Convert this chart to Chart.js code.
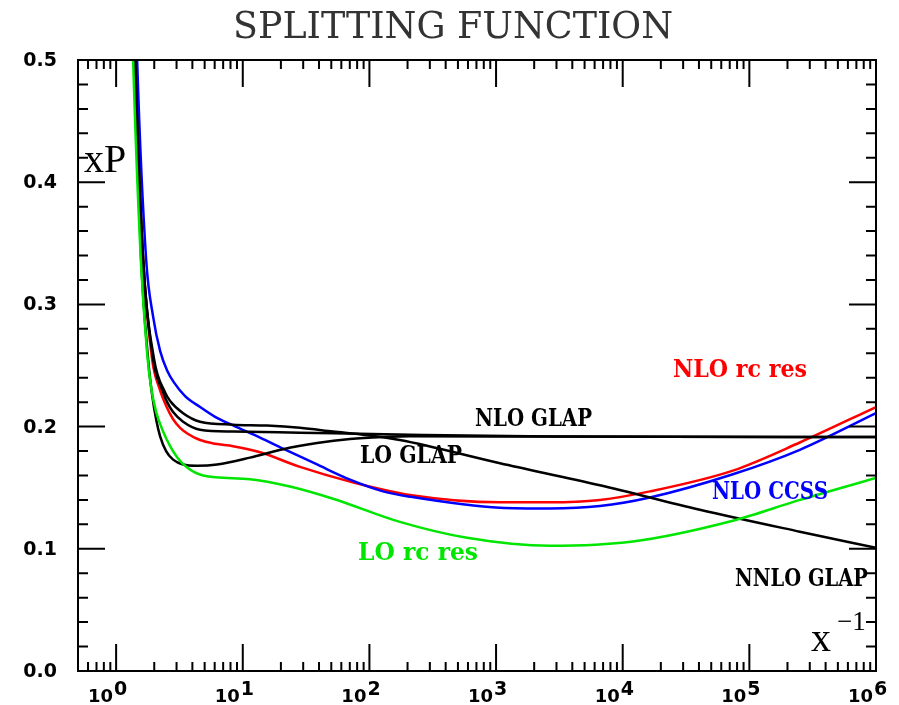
<!DOCTYPE html>
<html>
<head>
<meta charset="utf-8">
<script src="https://cdn.jsdelivr.net/npm/chart.js@4.4.1/dist/chart.umd.min.js"></script>
<style>
  body { margin: 0; background: #fff; }
</style>
</head>
<body>
<canvas id="chart" width="899" height="705"></canvas>
<script>
// values, x is 1/x on a log axis
var loRcX = [1.29, 1.362, 1.566, 1.757, 1.889, 2.069, 2.350, 2.668, 3.030, 3.634, 4.861, 11.4, 23.6, 51.6, 174, 589, 2664, 12040, 74100, 250400, 1e6];
var loRcY = [0.60, 0.50, 0.337, 0.26, 0.232, 0.212, 0.196, 0.184, 0.175, 0.1665, 0.160, 0.157, 0.151, 0.141, 0.122, 0.109, 0.1025, 0.106, 0.123, 0.140, 0.158];

var nloRcX = [1.337, 1.413, 1.634, 1.924, 2.185, 2.481, 2.818, 3.200, 3.701, 4.603, 6.045, 8.38, 13.7, 28.3, 70.3, 209, 1074, 2664, 6607, 16395, 74100, 250400, 1e6];
var nloRcY = [0.60, 0.50, 0.337, 0.255, 0.232, 0.217, 0.206, 0.199, 0.194, 0.189, 0.186, 0.184, 0.179, 0.167, 0.155, 0.144, 0.138, 0.138, 0.140, 0.147, 0.164, 0.187, 0.216];

var ccssX = [1.387, 1.465, 1.725, 1.959, 2.225, 2.527, 2.870, 3.504, 4.603, 6.045, 8.38, 13.7, 20.8, 38.6, 70.3, 128, 209, 1074, 2664, 6607, 16395, 74100, 250400, 1e6];
var ccssY = [0.60, 0.50, 0.337, 0.29, 0.262, 0.246, 0.236, 0.225, 0.216, 0.208, 0.201, 0.191, 0.182, 0.169, 0.1566, 0.147, 0.1426, 0.1336, 0.133, 0.135, 0.142, 0.161, 0.181, 0.211];

var nnloX = [1.337, 1.413, 1.634, 1.995, 2.436, 2.668, 3.380, 4.603, 8.38, 15.5, 28.3, 51.6, 95.7, 174, 1074, 6607, 40660, 250400, 1e6];
var nnloY = [0.60, 0.50, 0.337, 0.255, 0.228, 0.221, 0.211, 0.204, 0.2016, 0.2008, 0.199, 0.196, 0.193, 0.189, 0.170, 0.152, 0.132, 0.114, 0.1008];

var nloGlapX = [1.337, 1.413, 1.634, 1.959, 2.350, 2.527, 2.818, 3.380, 4.603, 8.38, 28.3, 209, 2664, 1e6];
var nloGlapY = [0.60, 0.50, 0.337, 0.255, 0.228, 0.220, 0.212, 0.204, 0.1975, 0.196, 0.195, 0.1934, 0.192, 0.1915];

var loGlapX = [1.29, 1.387, 1.575, 1.789, 1.924, 2.069, 2.225, 2.481, 2.818, 3.380, 4.358, 6.27, 11.4, 20.8, 38.6, 70.3, 128, 209, 2664, 1e6];
var loGlapY = [0.60, 0.50, 0.337, 0.255, 0.226, 0.206, 0.192, 0.180, 0.173, 0.169, 0.168, 0.169, 0.1746, 0.1815, 0.1865, 0.1898, 0.1915, 0.1922, 0.1918, 0.1915];

var yTicks = [0, 0.1, 0.2, 0.3, 0.4, 0.5];
var yTickLabels = ['0.0', '0.1', '0.2', '0.3', '0.4', '0.5'];
var xDecades = [0, 1, 2, 3, 4, 5, 6];

function toPoints(xs, ys) {
    var pts = [];
    for (var i = 0; i < xs.length; i++) {
        pts.push({x: xs[i], y: ys[i]});
    }
    return pts;
}

function line(xs, ys, color) {
    return {
        data: toPoints(xs, ys),
        borderColor: color,
        borderWidth: 2.5,
        pointRadius: 0,
        fill: false,
        cubicInterpolationMode: 'monotone',
        clip: 0
    };
}

// frame, inward ticks on all four sides, labels and captions
var decor = {
    id: 'decor',
    afterDraw: function(chart) {
        var ctx = chart.ctx;
        var a = chart.chartArea;
        var xs = chart.scales.x, ys = chart.scales.y;
        ctx.save();
        ctx.strokeStyle = '#000';
        ctx.lineWidth = 2;
        ctx.lineCap = 'butt';
        ctx.strokeRect(a.left, a.top, a.right - a.left, a.bottom - a.top);

        ctx.beginPath();
        for (var i = 0; i <= 25; i++) {
            var py = ys.getPixelForValue(i * 0.02);
            var len = (i % 5 === 0) ? 27 : 10;
            ctx.moveTo(a.left, py); ctx.lineTo(a.left + len, py);
            ctx.moveTo(a.right, py); ctx.lineTo(a.right - len, py);
        }
        for (var k = -1; k <= 6; k++) {
            for (var m = 1; m <= 9; m++) {
                var v = m * Math.pow(10, k);
                if (v < 0.5 || v > 1e6) continue;
                var px = xs.getPixelForValue(v);
                var l = (m === 1) ? 27 : 9;
                ctx.moveTo(px, a.bottom); ctx.lineTo(px, a.bottom - l);
                ctx.moveTo(px, a.top); ctx.lineTo(px, a.top + l);
            }
        }
        ctx.stroke();

        ctx.fillStyle = '#000';
        ctx.font = 'bold 19px "DejaVu Sans"';
        ctx.textAlign = 'right';
        ctx.textBaseline = 'middle';
        for (var j = 0; j < yTicks.length; j++) {
            ctx.fillText(yTickLabels[j], 57, ys.getPixelForValue(yTicks[j]) + 1);
        }

        ctx.textBaseline = 'alphabetic';
        for (var d = 0; d < xDecades.length; d++) {
            var tx = xs.getPixelForValue(Math.pow(10, xDecades[d]));
            ctx.font = 'bold 18px "DejaVu Sans"';
            ctx.textAlign = 'right';
            ctx.fillText('10', tx - 3, 702);
            ctx.textAlign = 'left';
            ctx.font = 'bold 19px "DejaVu Sans"';
            ctx.fillText(String(xDecades[d]), tx - 2, 695);
        }

        // title
        ctx.fillStyle = '#333';
        ctx.textAlign = 'center';
        var title = 'SPLITTING FUNCTION';
        ctx.font = '34px "DejaVu Serif"';
        var w = ctx.measureText(title).width;
        var size = 34 * 440 / w;
        ctx.font = size.toFixed(1) + 'px "DejaVu Serif"';
        ctx.fillText(title, 453, 38);

        ctx.fillStyle = '#000';
        ctx.textAlign = 'left';
        ctx.font = '40px "Liberation Serif"';
        ctx.fillText('xP', 84, 172);
        ctx.font = '40px "Liberation Serif"';
        ctx.fillText('x', 811, 651);
        ctx.font = '27px "Liberation Serif"';
        ctx.fillText('\u22121', 837, 630);

        ctx.font = 'bold 24px "DejaVu Serif"';
        var labels = [
            ['NLO GLAP', 475, 426, 117, '#000'],
            ['LO GLAP', 360, 463, 102, '#000'],
            ['NLO rc res', 673, 377, 134, '#ff0000'],
            ['NLO CCSS', 712, 499, 116, '#0000ff'],
            ['NNLO GLAP', 735, 586, 133, '#000'],
            ['LO rc res', 358, 560, 120, '#00e600']
        ];
        for (var n = 0; n < labels.length; n++) {
            ctx.fillStyle = labels[n][4];
            ctx.fillText(labels[n][0], labels[n][1], labels[n][2], labels[n][3]);
        }
        ctx.restore();
    }
};

var ctx = document.getElementById('chart').getContext('2d');
window.splitChart = new Chart(ctx, {
    type: 'line',
    data: {
        datasets: [
            line(loRcX, loRcY, '#00e600'),
            line(nnloX, nnloY, '#000'),
            line(nloGlapX, nloGlapY, '#000'),
            line(loGlapX, loGlapY, '#000'),
            line(ccssX, ccssY, '#0000ff'),
            line(nloRcX, nloRcY, '#ff0000')
        ]
    },
    options: {
        responsive: false,
        animation: false,
        layout: { padding: { left: 78, right: 23, top: 60, bottom: 34 } },
        plugins: { legend: { display: false }, tooltip: { enabled: false } },
        scales: {
            x: { type: 'logarithmic', min: 0.5, max: 1e6, display: false },
            y: { type: 'linear', min: 0, max: 0.5, display: false }
        }
    },
    plugins: [decor]
});
</script>
</body>
</html>
